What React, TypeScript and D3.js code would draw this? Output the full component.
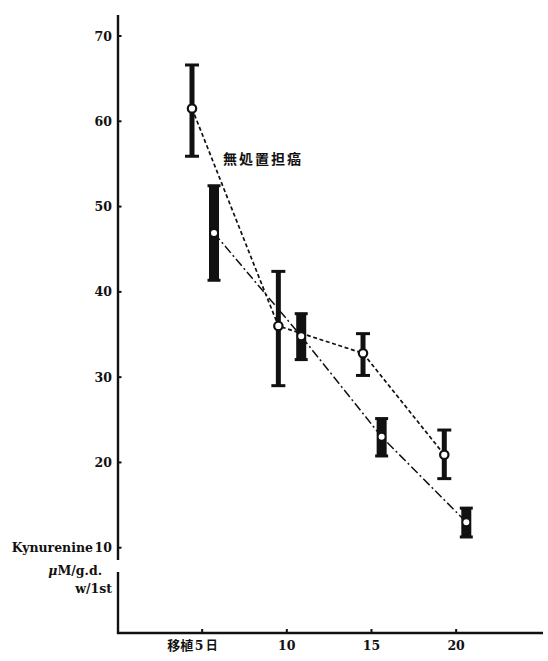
import React from "react";
import * as d3 from "d3";

// Kynurenine level (μM/g.d. w/1st) against days after transplantation
const dayTicks = [5, 10, 15, 20];
const valueTicks = [10, 20, 30, 40, 50, 60, 70];

// Untreated tumour-bearing group (無処置担癌)
const untreatedDay = [4.4, 9.5, 14.5, 19.3];
const untreatedMean = [61.5, 36.0, 32.8, 20.9];
const untreatedHigh = [66.6, 42.4, 35.1, 23.8];
const untreatedLow = [55.9, 29.0, 30.2, 18.1];

// Second group, drawn with heavy bars
const treatedDay = [5.7, 10.85, 15.6, 20.6];
const treatedMean = [46.9, 34.8, 23.0, 13.0];
const treatedHigh = [52.5, 37.5, 25.2, 14.7];
const treatedLow = [41.3, 32.0, 20.7, 11.2];

const groupLabel = "無処置担癌";
const axisName = "Kynurenine";
const unitLines = ["M/g.d.", "w/1st"];

type Pt = { day: number; mean: number; hi: number; lo: number };

const zip = (d: number[], m: number[], h: number[], l: number[]): Pt[] =>
  d.map((day, i) => ({ day, mean: m[i], hi: h[i], lo: l[i] }));

export default function App() {
  const W = 548;
  const H = 661;
  const x = d3.scaleLinear().domain([0, 25]).range([117.5, 540.8]);
  const y = d3.scaleLinear().domain([0, 70]).range([633, 36]);

  const axisX = 118;
  const axisY = 633;

  const untreated = zip(untreatedDay, untreatedMean, untreatedHigh, untreatedLow);
  const treated = zip(treatedDay, treatedMean, treatedHigh, treatedLow);

  const line = d3
    .line<Pt>()
    .x((d) => x(d.day))
    .y((d) => y(d.mean));

  const serif = "'DejaVu Serif', 'Liberation Serif', serif";
  const cjk = "'Noto Sans CJK JP', 'Noto Sans CJK SC', sans-serif";
  const ink = "#111";

  return (
    <svg
      width={W}
      height={H}
      viewBox={`0 0 ${W} ${H}`}
      style={{ position: "absolute", left: 0, top: 0, background: "#fff" }}
    >
      <rect width={W} height={H} fill="#fff" />

      {/* y axis, broken just below 10 */}
      <line x1={axisX} x2={axisX} y1={15} y2={560} stroke={ink} strokeWidth={2.4} />
      <line x1={axisX} x2={axisX} y1={572} y2={axisY + 1} stroke={ink} strokeWidth={2.4} />
      {valueTicks.map((v) => (
        <g key={v}>
          <line x1={axisX} x2={axisX + 3.5} y1={y(v)} y2={y(v)} stroke={ink} strokeWidth={2} />
          <text
            x={112}
            y={y(v) + 4.5}
            textAnchor="end"
            fontFamily={serif}
            fontWeight="bold"
            fontSize={12.5}
            fill={ink}
          >
            {v}
          </text>
        </g>
      ))}
      <text x={93} y={y(10) + 4.5} textAnchor="end" fontFamily={serif} fontWeight="bold" fontSize={12.5} fill={ink}>
        {axisName}
      </text>
      <text x={102} y={575} textAnchor="end" fontFamily={serif} fontWeight="bold" fontSize={12.5} fill={ink}>
        <tspan fontStyle="italic">μ</tspan>
        {unitLines[0]}
      </text>
      <text x={112} y={593} textAnchor="end" fontFamily={serif} fontWeight="bold" fontSize={12.5} fill={ink}>
        {unitLines[1]}
      </text>

      {/* x axis */}
      <line x1={axisX - 1} x2={543} y1={axisY} y2={axisY} stroke={ink} strokeWidth={2.4} />
      {dayTicks.map((d) => (
        <g key={d}>
          <line x1={x(d)} x2={x(d)} y1={axisY} y2={axisY - 4} stroke={ink} strokeWidth={2} />
          <text
            x={d === 5 ? x(d) - 3 : x(d)}
            y={650}
            textAnchor="middle"
            fontFamily={serif}
            fontWeight="bold"
            fontSize={12.5}
            fill={ink}
          >
            {d}
          </text>
          {d === 5 && (
            <>
              <text x={x(d) - 9} y={650} textAnchor="end" fontFamily={cjk} fontWeight="bold" fontSize={13} fill={ink}>
                移植
              </text>
              <text x={x(d) + 3.5} y={650} textAnchor="start" fontFamily={cjk} fontWeight="bold" fontSize={12} fill={ink}>
                日
              </text>
            </>
          )}
        </g>
      ))}

      {/* connecting lines */}
      <path d={line(untreated) ?? ""} fill="none" stroke={ink} strokeWidth={1.7} strokeDasharray="4 2.6" />
      <path d={line(treated) ?? ""} fill="none" stroke={ink} strokeWidth={1.5} strokeDasharray="9 3 2 3" />

      {/* untreated group: thin bars with caps */}
      {untreated.map((p, i) => (
        <g key={`u${i}`}>
          <line x1={x(p.day)} x2={x(p.day)} y1={y(p.hi)} y2={y(p.lo)} stroke={ink} strokeWidth={5} />
          <line x1={x(p.day) - 7} x2={x(p.day) + 7} y1={y(p.hi)} y2={y(p.hi)} stroke={ink} strokeWidth={3} />
          <line x1={x(p.day) - 7} x2={x(p.day) + 7} y1={y(p.lo)} y2={y(p.lo)} stroke={ink} strokeWidth={3} />
          <circle cx={x(p.day)} cy={y(p.mean)} r={4.2} fill="#fff" stroke={ink} strokeWidth={2.2} />
        </g>
      ))}

      {/* second group: heavy bars */}
      {treated.map((p, i) => (
        <g key={`t${i}`}>
          <rect x={x(p.day) - 5} y={y(p.hi)} width={10} height={y(p.lo) - y(p.hi)} fill={ink} />
          <rect x={x(p.day) - 6.5} y={y(p.hi) - 1} width={13} height={3} fill={ink} />
          <rect x={x(p.day) - 6.5} y={y(p.lo) - 2} width={13} height={3} fill={ink} />
          <circle cx={x(p.day)} cy={y(p.mean)} r={3.8} fill="#fff" stroke={ink} strokeWidth={1.6} />
        </g>
      ))}

      <text x={223} y={164} fontFamily={cjk} fontWeight="bold" fontSize={14} letterSpacing={2} fill={ink}>
        {groupLabel}
      </text>
    </svg>
  );
}
